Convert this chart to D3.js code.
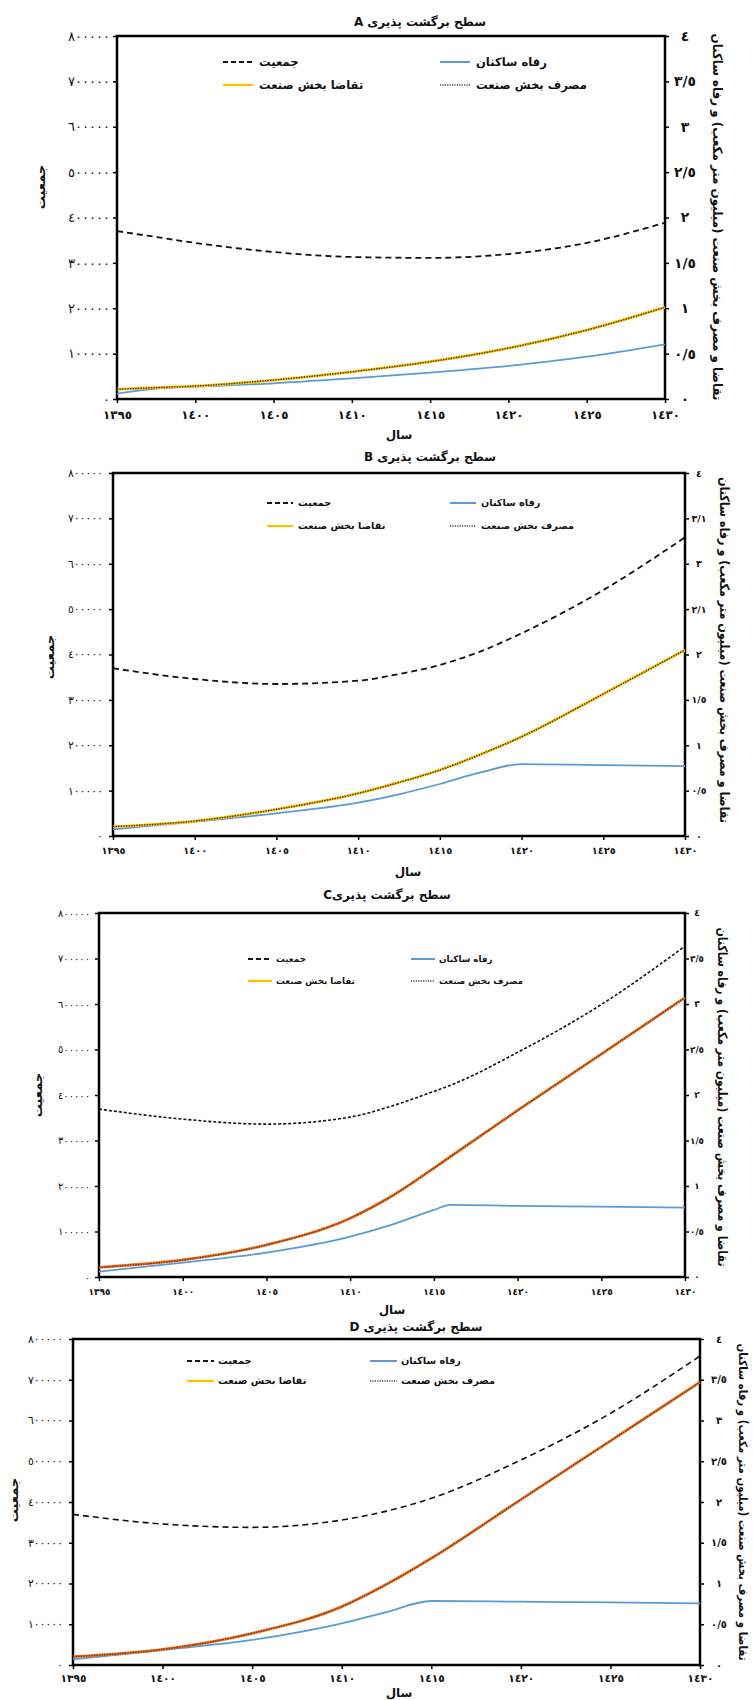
<!DOCTYPE html>
<html>
<head>
<meta charset="utf-8">
<script src="https://cdn.jsdelivr.net/npm/d3@7"></script>
<style>
  body { margin: 0; background: #fff; }
  text { font-family: "DejaVu Sans", sans-serif; fill: #111; }
</style>
</head>
<body>
<svg id="chart"></svg>
<script>
const width = 753;
const height = 1700;

// tick values and labels
const xTicks = [1395, 1400, 1405, 1410, 1415, 1420, 1425, 1430];
const leftTicks = [0, 100000, 200000, 300000, 400000, 500000, 600000, 700000, 800000];
const rightTicks = [0, 0.5, 1, 1.5, 2, 2.5, 3, 3.5, 4];
const rightLabels = ['٠', '٠/٥', '١', '١/٥', '٢', '٢/٥', '٣', '٣/٥', '٤'];
const rightLabelsB = ['٠', '٠/٥', '١', '١/٥', '٢', '٢/١', '٣', '٣/١', '٤'];

const legendNames = ['جمعیت', 'رفاه ساکنان', 'تقاضا بخش صنعت', 'مصرف بخش صنعت'];
const titles = ['سطح برگشت پذیری A', 'سطح برگشت پذیری B', 'سطح برگشت پذیریC', 'سطح برگشت پذیری D'];
const xTitle = 'سال';
const leftTitle = 'جمعیت';
const rightTitle = 'تقاضا و مصرف بخش صنعت (میلیون متر مکعب) و رفاه ساکنان';

// A
const yearsA = [1395, 1397.5, 1400, 1405, 1410, 1415, 1420, 1425, 1430];
const popA = [370000, 357000, 344000, 324000, 313000, 311000, 319500, 344000, 388600];
const welfareA = [0.06, 0.115, 0.136, 0.173, 0.228, 0.29, 0.364, 0.466, 0.603];
const demandA = [0.107, 0.125, 0.143, 0.209, 0.30, 0.411, 0.56, 0.76, 1.01];
const useA = [0.107, 0.125, 0.143, 0.209, 0.30, 0.411, 0.56, 0.76, 1.01];

// B
const yearsB = [1395, 1400, 1405, 1410, 1412.5, 1415, 1417.5, 1420, 1425, 1430];
const popB = [369600, 346000, 335000, 342300, 357000, 376900, 407000, 446700, 542000, 658300];
const welfareB = [0.073, 0.158, 0.25, 0.367, 0.46, 0.573, 0.7, 0.793, 0.782, 0.771];
const demandB = [0.103, 0.165, 0.294, 0.47, 0.59, 0.727, 0.9, 1.094, 1.565, 2.05];
const useB = [0.103, 0.165, 0.294, 0.47, 0.59, 0.727, 0.9, 1.094, 1.565, 2.05];

// C
const yearsC = [1395, 1400, 1405, 1410, 1412.5, 1415, 1416, 1420, 1425, 1430];
const popC = [369000, 347000, 336000, 351400, 376000, 407900, 421500, 493600, 598800, 727000];
const welfareC = [0.059, 0.158, 0.268, 0.444, 0.575, 0.737, 0.792, 0.781, 0.774, 0.763];
const demandC = [0.106, 0.187, 0.352, 0.646, 0.89, 1.196, 1.324, 1.83, 2.45, 3.07];
const useC = [0.106, 0.187, 0.352, 0.646, 0.89, 1.196, 1.324, 1.83, 2.45, 3.07];

// D
const yearsD = [1395, 1400, 1405, 1410, 1412.5, 1415, 1420, 1425, 1430];
const popD = [369700, 346000, 337800, 355800, 377600, 409000, 503100, 617600, 758300];
const welfareD = [0.07, 0.184, 0.307, 0.511, 0.65, 0.785, 0.777, 0.769, 0.757];
const demandD = [0.102, 0.192, 0.389, 0.716, 0.99, 1.309, 2.03, 2.75, 3.47];
const useD = [0.102, 0.192, 0.389, 0.716, 0.99, 1.309, 2.03, 2.75, 3.47];

const arDigits = v => String(v).replace(/\d/g, d => '٠١٢٣٤٥٦٧٨٩'[d]);

// scale the font of a group of labels so the widest one gets the wanted width
function fitFont(sel, base, target) {
    sel.style('font-size', base + 'px');
    const w = d3.max(sel.nodes(), n => n.getComputedTextLength());
    if (w > 0) sel.style('font-size', (base * target / w).toFixed(2) + 'px');
}

const svg = d3.select('#chart')
    .attr('width', width)
    .attr('height', height)
    .style('background', '#fff');

const panels = [
    { years: yearsA, pop: popA, welfare: welfareA, demand: demandA, use: useA, title: titles[0], rLabels: rightLabels,
      left: 117, right: 665, top: 36, bottom: 399, titleY: 22, titleX: 420,
      leg: { y1: 62, y2: 85, c1: 223, c2: 440, sw: 30, gap: 6 }, fit: { left: 42, x: 29, right: 22, legend: 111 },
      lPad: 3, rOff: 20, xLabY: 16,
      xTitle: [399, 435], lTitle: [41, 187], rTitle: [716, 217, 367, 13], popDash: '6,4', dark: false },
    { years: yearsB, pop: popB, welfare: welfareB, demand: demandB, use: useB, title: titles[1], rLabels: rightLabelsB,
      left: 113, right: 685, top: 473, bottom: 836, titleY: 457, titleX: 430,
      leg: { y1: 503, y2: 526, c1: 267, c2: 450, sw: 26, gap: 5 }, fit: { left: 35, x: 24, right: 15, legend: 93 },
      lPad: 6, rOff: 14, xLabY: 15,
      xTitle: [408, 872], lTitle: [50, 657], rTitle: [723, 650, 346, 13], popDash: '6,4', dark: false },
    { years: yearsC, pop: popC, welfare: welfareC, demand: demandC, use: useC, title: titles[2], rLabels: rightLabels,
      left: 99, right: 685, top: 913, bottom: 1277, titleY: 895, titleX: 387,
      leg: { y1: 959, y2: 981, c1: 248, c2: 411, sw: 24, gap: 4 }, fit: { left: 32, x: 22, right: 14, legend: 84 },
      lPad: 5, rOff: 12, xLabY: 15,
      xTitle: [392, 1310], lTitle: [38, 1095], rTitle: [721, 1097, 339, 13], popDash: '3,2', dark: true },
    { years: yearsD, pop: popD, welfare: welfareD, demand: demandD, use: useD, title: titles[3], rLabels: rightLabels,
      left: 73, right: 700, top: 1339, bottom: 1665, titleY: 1327, titleX: 416,
      leg: { y1: 1361, y2: 1381, c1: 187, c2: 370, sw: 27, gap: 4 }, fit: { left: 35, x: 26, right: 16, legend: 94 },
      lPad: 6, rOff: 19, xLabY: 13,
      xTitle: [399, 1693], lTitle: [14, 1500], rTitle: [742, 1502, 317, 11.5], popDash: '6,4', dark: true }
];

panels.forEach(p => {
    const g = svg.append('g');

    const xScale = d3.scaleLinear().domain([1395, 1430]).range([p.left, p.right]);
    const yLeft = d3.scaleLinear().domain([0, 800000]).range([p.bottom, p.top]);
    const yRight = d3.scaleLinear().domain([0, 4]).range([p.bottom, p.top]);

    // title
    g.append('text')
        .attr('x', p.titleX)
        .attr('y', p.titleY)
        .attr('direction', 'rtl')
        .attr('text-anchor', 'middle')
        .attr('dominant-baseline', 'middle')
        .style('font-size', '12px')
        .style('font-weight', 'bold')
        .text(p.title);

    // axes
    const leftAxis = g.append('g')
        .attr('transform', `translate(${p.left},0)`)
        .call(d3.axisLeft(yLeft).tickValues(leftTicks).tickFormat(arDigits).tickSize(4).tickPadding(p.lPad));
    leftAxis.select('.domain').remove();
    fitFont(leftAxis.selectAll('text'), 10, p.fit.left);

    const rightAxis = g.append('g')
        .attr('transform', `translate(${p.right},0)`)
        .call(d3.axisRight(yRight).tickValues(rightTicks).tickFormat((d, i) => p.rLabels[i]).tickSize(4));
    rightAxis.select('.domain').remove();
    rightAxis.selectAll('text')
        .attr('x', p.rOff)
        .attr('text-anchor', 'middle')
        .style('font-weight', 'bold');
    fitFont(rightAxis.selectAll('text'), 11, p.fit.right);

    const bottomAxis = g.append('g')
        .attr('transform', `translate(0,${p.bottom})`)
        .call(d3.axisBottom(xScale).tickValues(xTicks).tickFormat(arDigits).tickSize(4));
    bottomAxis.select('.domain').remove();
    bottomAxis.selectAll('text')
        .attr('y', p.xLabY)
        .attr('dy', '0.35em')
        .style('font-weight', 'bold');
    fitFont(bottomAxis.selectAll('text'), 12, p.fit.x);

    g.selectAll('.tick line').attr('stroke', '#000').attr('stroke-width', 1.5);

    // frame
    g.append('rect')
        .attr('x', p.left)
        .attr('y', p.top)
        .attr('width', p.right - p.left)
        .attr('height', p.bottom - p.top)
        .attr('fill', 'none')
        .attr('stroke', '#000')
        .attr('stroke-width', 2.5);

    // axis titles
    g.append('text')
        .attr('x', p.xTitle[0])
        .attr('y', p.xTitle[1])
        .attr('text-anchor', 'middle')
        .attr('dominant-baseline', 'middle')
        .style('font-size', '12px')
        .style('font-weight', 'bold')
        .text(xTitle);

    g.append('text')
        .attr('transform', `translate(${p.lTitle[0]},${p.lTitle[1]}) rotate(-90)`)
        .attr('text-anchor', 'middle')
        .attr('dominant-baseline', 'middle')
        .style('font-size', '13px')
        .style('font-weight', 'bold')
        .text(leftTitle);

    g.append('text')
        .attr('transform', `translate(${p.rTitle[0]},${p.rTitle[1]}) rotate(90)`)
        .attr('direction', 'rtl')
        .attr('text-anchor', 'middle')
        .attr('dominant-baseline', 'middle')
        .attr('textLength', p.rTitle[2])
        .attr('lengthAdjust', 'spacingAndGlyphs')
        .style('font-size', p.rTitle[3] + 'px')
        .style('font-weight', 'bold')
        .text(rightTitle);

    // series
    const rows = p.years.map((yr, i) => ({
        year: yr, pop: p.pop[i], welfare: p.welfare[i], demand: p.demand[i], use: p.use[i]
    }));

    const lineOf = (key, scale) => d3.line()
        .x(d => xScale(d.year))
        .y(d => scale(d[key]))
        .curve(d3.curveMonotoneX);

    g.append('path')
        .datum(rows)
        .attr('d', lineOf('pop', yLeft))
        .attr('fill', 'none')
        .attr('stroke', '#111')
        .attr('stroke-width', p.dark ? 1.6 : 1.8)
        .attr('stroke-dasharray', p.popDash);

    g.append('path')
        .datum(rows)
        .attr('d', lineOf('welfare', yRight))
        .attr('fill', 'none')
        .attr('stroke', '#5b9bd5')
        .attr('stroke-width', 1.8);

    g.append('path')
        .datum(rows)
        .attr('d', lineOf('demand', yRight))
        .attr('fill', 'none')
        .attr('stroke', p.dark ? '#e5701f' : '#ffc000')
        .attr('stroke-width', 2.8);

    g.append('path')
        .datum(rows)
        .attr('d', lineOf('use', yRight))
        .attr('fill', 'none')
        .attr('stroke', p.dark ? '#7a2a0c' : '#222')
        .attr('stroke-width', 1.3)
        .attr('stroke-dasharray', '1.3,1.3');

    // legend
    const legendItems = [
        { name: legendNames[0], x: p.leg.c1, y: p.leg.y1, color: '#111', dash: '5,3', w: 2 },
        { name: legendNames[1], x: p.leg.c2, y: p.leg.y1, color: '#5b9bd5', dash: null, w: 2 },
        { name: legendNames[2], x: p.leg.c1, y: p.leg.y2, color: '#ffc000', dash: null, w: 2.2 },
        { name: legendNames[3], x: p.leg.c2, y: p.leg.y2, color: '#444', dash: '1.2,1.2', w: 1.5 }
    ];

    const legendTexts = [];
    legendItems.forEach(item => {
        g.append('line')
            .attr('x1', item.x)
            .attr('x2', item.x + p.leg.sw)
            .attr('y1', item.y)
            .attr('y2', item.y)
            .attr('stroke', item.color)
            .attr('stroke-width', item.w)
            .attr('stroke-dasharray', item.dash);
        const t = g.append('text')
            .attr('x', item.x + p.leg.sw + p.leg.gap)
            .attr('y', item.y)
            .attr('dominant-baseline', 'middle')
            .style('font-weight', 'bold')
            .text(item.name);
        legendTexts.push(t.node());
    });
    fitFont(d3.selectAll(legendTexts), 12, p.fit.legend);
});
</script>
</body>
</html>
